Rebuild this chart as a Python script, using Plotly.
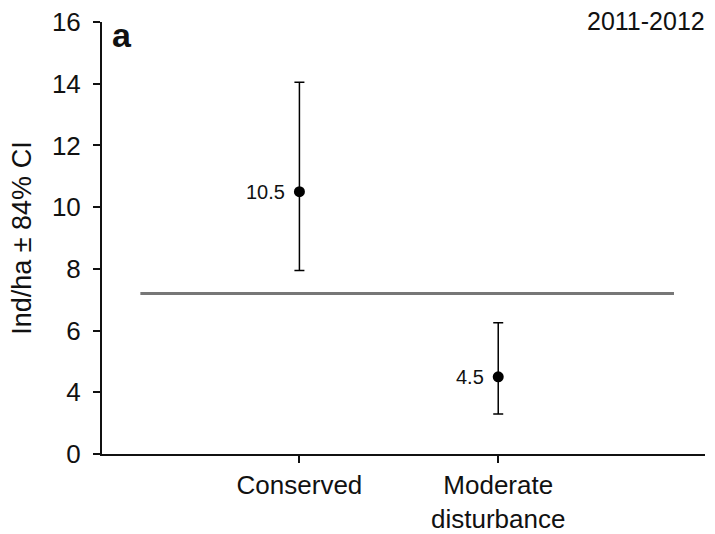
import plotly.graph_objects as go

# Density estimates per habitat condition, with 84% confidence limits
categories = ["Conserved", "Moderate<br>disturbance"]
density = [10.5, 4.5]
ci_upper = [14.05, 6.25]
ci_lower = [7.95, 3.3]
overall_mean = 7.2

# Y axis is broken below 4: the lowest tick carries the label "0"
y_tickvals = [2, 4, 6, 8, 10, 12, 14, 16]
y_ticktext = ["0", "4", "6", "8", "10", "12", "14", "16"]

FONT = "Liberation Sans, Arial, sans-serif"

err_plus = [u - d for u, d in zip(ci_upper, density)]
err_minus = [d - l for d, l in zip(density, ci_lower)]

fig = go.Figure()
fig.add_trace(go.Scatter(
    x=categories,
    y=density,
    mode="markers",
    marker=dict(color="black", size=11),
    error_y=dict(type="data", symmetric=False, array=err_plus,
                 arrayminus=err_minus, color="black", thickness=1.5, width=5),
    showlegend=False,
    cliponaxis=False,
))

# Value labels to the left of each point
for cat, val in zip(categories, density):
    fig.add_annotation(x=cat, y=val, text=f"{val:g}", showarrow=False,
                       xanchor="right", yanchor="middle", xshift=-12,
                       font=dict(family=FONT, size=20, color="#111"))

# Overall mean reference line
fig.add_shape(type="line", xref="x", yref="y",
              x0=-0.8, x1=1.884, y0=overall_mean, y1=overall_mean,
              line=dict(color="#777777", width=3), layer="below")

fig.update_xaxes(
    type="category",
    range=[-0.993, 2.04],
    automargin=False,
    showline=True, linecolor="#111", linewidth=2,
    ticks="outside", ticklen=7, tickwidth=1.5, tickcolor="#111",
    tickfont=dict(family=FONT, size=26, color="#111"),
    ticklabelstandoff=0,
    showgrid=False, zeroline=False,
)
fig.update_yaxes(
    range=[2, 16],
    automargin=False,
    tickvals=y_tickvals, ticktext=y_ticktext,
    showline=True, linecolor="#111", linewidth=2,
    ticks="outside", ticklen=7, tickwidth=1.5, tickcolor="#111",
    tickfont=dict(family=FONT, size=26, color="#111"),
    ticklabelstandoff=7,
    showgrid=False, zeroline=False,
)

fig.add_annotation(text="Ind/ha ± 84% CI", textangle=-90,
                   xref="paper", yref="paper", x=-0.133, y=0.5,
                   xanchor="center", yanchor="middle", showarrow=False,
                   font=dict(family=FONT, size=27, color="#111"))
fig.add_annotation(text="<b>a</b>", xref="paper", yref="paper",
                   x=0.014, y=1.0, xanchor="left", yanchor="top", yshift=8,
                   showarrow=False, font=dict(family=FONT, size=34, color="#111"))
fig.add_annotation(text="2011-2012", xref="paper", yref="paper",
                   x=1.004, y=0.995, xanchor="right", yanchor="middle", yshift=3,
                   showarrow=False, font=dict(family=FONT, size=25, color="#111"))

fig.update_layout(
    width=715, height=534,
    margin=dict(l=102, r=10, t=22, b=80),
    paper_bgcolor="white", plot_bgcolor="white",
    font=dict(family=FONT, color="#111"),
)

fig.write_html("out.html")
